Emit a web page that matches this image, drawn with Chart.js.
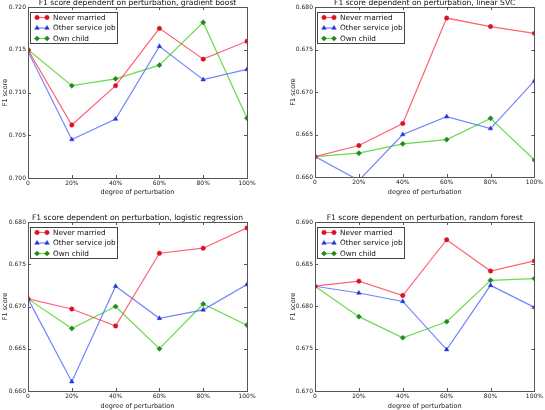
<!DOCTYPE html>
<html>
<head>
<meta charset="utf-8">
<script src="https://cdn.jsdelivr.net/npm/chart.js@4.4.0/dist/chart.umd.min.js"></script>
<style>
  body { margin: 0; background: #fff; }
  #wrap { position: relative; width: 545px; height: 410px; overflow: hidden; }
  canvas { position: absolute; }
</style>
</head>
<body>
<div id="wrap">
  <canvas id="c1" width="272" height="205" style="left:0;top:0"></canvas>
  <canvas id="c2" width="273" height="205" style="left:272px;top:0"></canvas>
  <canvas id="c3" width="272" height="205" style="left:0;top:205px"></canvas>
  <canvas id="c4" width="273" height="205" style="left:272px;top:205px"></canvas>
</div>
<script>
// x axis categories
const perturbation = ['0', '20%', '40%', '60%', '80%', '100%'];
const seriesNames = ['Never married', 'Other service job', 'Own child'];

// gradient boost
const gbNeverMarried = [0.7150, 0.7062, 0.7108, 0.7175, 0.7139, 0.7160];
const gbOtherService = [0.7148, 0.7045, 0.7069, 0.7154, 0.7115, 0.7127];
const gbOwnChild     = [0.7150, 0.7108, 0.7116, 0.7132, 0.7182, 0.7070];
const gbRange = [0.700, 0.720];

// linear SVC
const svcNeverMarried = [0.6624, 0.6637, 0.6663, 0.6787, 0.6777, 0.6769];
const svcOtherService = [0.6624, 0.6596, 0.6650, 0.6671, 0.6657, 0.6713];
const svcOwnChild     = [0.6624, 0.6628, 0.6639, 0.6644, 0.6669, 0.6620];
const svcRange = [0.660, 0.680];

// logistic regression
const lrNeverMarried = [0.6709, 0.6697, 0.6677, 0.6763, 0.6769, 0.6793];
const lrOtherService = [0.6709, 0.6611, 0.6724, 0.6686, 0.6696, 0.6726];
const lrOwnChild     = [0.6709, 0.6674, 0.6700, 0.6650, 0.6703, 0.6678];
const lrRange = [0.660, 0.680];

// random forest
const rfNeverMarried = [0.6824, 0.6830, 0.6813, 0.6879, 0.6842, 0.6854];
const rfOtherService = [0.6824, 0.6816, 0.6806, 0.6749, 0.6825, 0.6799];
const rfOwnChild     = [0.6824, 0.6788, 0.6763, 0.6782, 0.6831, 0.6833];
const rfRange = [0.670, 0.690];

const yStep = 0.005;
const FONT = "'DejaVu Sans', sans-serif";

const styles = [
  { line: 'rgba(255, 70, 90, 0.85)',  point: '#dd1122', shape: 'circle',   r: 2.2 },
  { line: 'rgba(90, 110, 255, 0.85)', point: '#2233dd', shape: 'triangle', r: 2.6 },
  { line: 'rgba(90, 215, 60, 0.9)',   point: '#228822', shape: 'rectRot',  r: 2.6 }
];

// frame, inward ticks, title and boxed legend, matplotlib style
const decor = {
  id: 'decor',
  afterDraw(chart) {
    const ctx = chart.ctx;
    const a = chart.chartArea;
    const xs = chart.scales.x, ys = chart.scales.y;
    ctx.save();
    ctx.strokeStyle = '#555';
    ctx.lineWidth = 1;
    ctx.strokeRect(Math.round(a.left) + 0.5, Math.round(a.top) + 0.5,
                   Math.round(a.right - a.left), Math.round(a.bottom - a.top));
    ctx.beginPath();
    xs.ticks.forEach((t, i) => {
      const x = Math.round(xs.getPixelForTick(i)) + 0.5;
      ctx.moveTo(x, a.bottom); ctx.lineTo(x, a.bottom - 3);
      ctx.moveTo(x, a.top); ctx.lineTo(x, a.top + 3);
    });
    ys.ticks.forEach((t, i) => {
      const y = Math.round(ys.getPixelForTick(i)) + 0.5;
      ctx.moveTo(a.left, y); ctx.lineTo(a.left + 3, y);
      ctx.moveTo(a.right, y); ctx.lineTo(a.right - 3, y);
    });
    ctx.stroke();

    // title
    ctx.fillStyle = '#111';
    ctx.font = '7.6px ' + FONT;
    ctx.textAlign = 'center';
    ctx.textBaseline = 'middle';
    ctx.fillText(chart.options.panelTitle, (a.left + a.right) / 2, a.top - 4);

    // legend
    const lx = a.left + 2, ly = a.top + 5;
    ctx.fillStyle = '#fff';
    ctx.fillRect(lx, ly, 87, 31);
    ctx.strokeStyle = '#444';
    ctx.strokeRect(lx + 0.5, ly + 0.5, 87, 31);
    ctx.font = '7.3px ' + FONT;
    ctx.textAlign = 'left';
    chart.data.datasets.forEach((ds, i) => {
      const y = ly + 5.5 + i * 10.5;
      const st = styles[i];
      ctx.strokeStyle = st.line;
      ctx.lineWidth = 1.2;
      ctx.beginPath();
      ctx.moveTo(lx + 7, y); ctx.lineTo(lx + 17, y);
      ctx.stroke();
      ctx.fillStyle = st.point;
      ctx.strokeStyle = st.point;
      ctx.lineWidth = 0.5;
      [lx + 7, lx + 17].forEach(px => {
        Chart.helpers.drawPoint(ctx, { pointStyle: st.shape, radius: st.r, rotation: 0, borderWidth: 0.5 }, px, y);
      });
      ctx.fillStyle = '#111';
      ctx.fillText(ds.label, lx + 23, y + 0.5);
    });
    ctx.restore();
  }
};

function makePanel(id, title, series, range, box) {
  const datasets = series.map((vals, i) => ({
    label: seriesNames[i],
    data: vals,
    borderColor: styles[i].line,
    borderWidth: 1.2,
    pointStyle: styles[i].shape,
    pointRadius: styles[i].r,
    pointBackgroundColor: styles[i].point,
    pointBorderColor: styles[i].point,
    pointBorderWidth: 0.5,
    tension: 0,
    clip: 0
  }));
  new Chart(document.getElementById(id), {
    type: 'line',
    data: { labels: perturbation, datasets: datasets },
    options: {
      panelTitle: title,
      responsive: false,
      animation: false,
      events: [],
      layout: { padding: { left: 0, top: box.top, right: box.right, bottom: 0 } },
      plugins: { legend: { display: false }, tooltip: { enabled: false } },
      scales: {
        x: {
          type: 'category',
          offset: false,
          grid: { display: false, drawTicks: false },
          border: { display: false },
          ticks: { color: '#222', font: { family: FONT, size: 6 }, padding: 2, maxRotation: 0, autoSkip: false },
          title: { display: true, text: 'degree of perturbation', color: '#222',
                   font: { family: FONT, size: 6.5 }, padding: { top: 0, bottom: box.xTitle } },
          afterFit: s => { s.height = box.xh; }
        },
        y: {
          min: range[0],
          max: range[1],
          grid: { display: false, drawTicks: false },
          border: { display: false },
          ticks: { stepSize: yStep, color: '#222', font: { family: FONT, size: 6 }, padding: 2,
                   callback: v => v.toFixed(3) },
          title: { display: true, text: 'F1 score', color: '#222',
                   font: { family: FONT, size: 6.5 }, padding: { top: box.yTitle, bottom: 0 } },
          afterFit: s => { s.width = box.yw; }
        }
      }
    },
    plugins: [decor]
  });
}

makePanel('c1', 'F1 score dependent on perturbation, gradient boost',
  [gbNeverMarried, gbOtherService, gbOwnChild], gbRange,
  { top: 7, right: 25, yw: 28, xh: 27, xTitle: 9, yTitle: 1 });
makePanel('c2', 'F1 score dependent on perturbation, linear SVC',
  [svcNeverMarried, svcOtherService, svcOwnChild], svcRange,
  { top: 7, right: 10, yw: 43, xh: 28, xTitle: 9, yTitle: 17 });
makePanel('c3', 'F1 score dependent on perturbation, logistic regression',
  [lrNeverMarried, lrOtherService, lrOwnChild], lrRange,
  { top: 17, right: 25, yw: 28, xh: 19, xTitle: 0, yTitle: 1 });
makePanel('c4', 'F1 score dependent on perturbation, random forest',
  [rfNeverMarried, rfOtherService, rfOwnChild], rfRange,
  { top: 17, right: 10, yw: 43, xh: 19, xTitle: 0, yTitle: 17 });
</script>
</body>
</html>
